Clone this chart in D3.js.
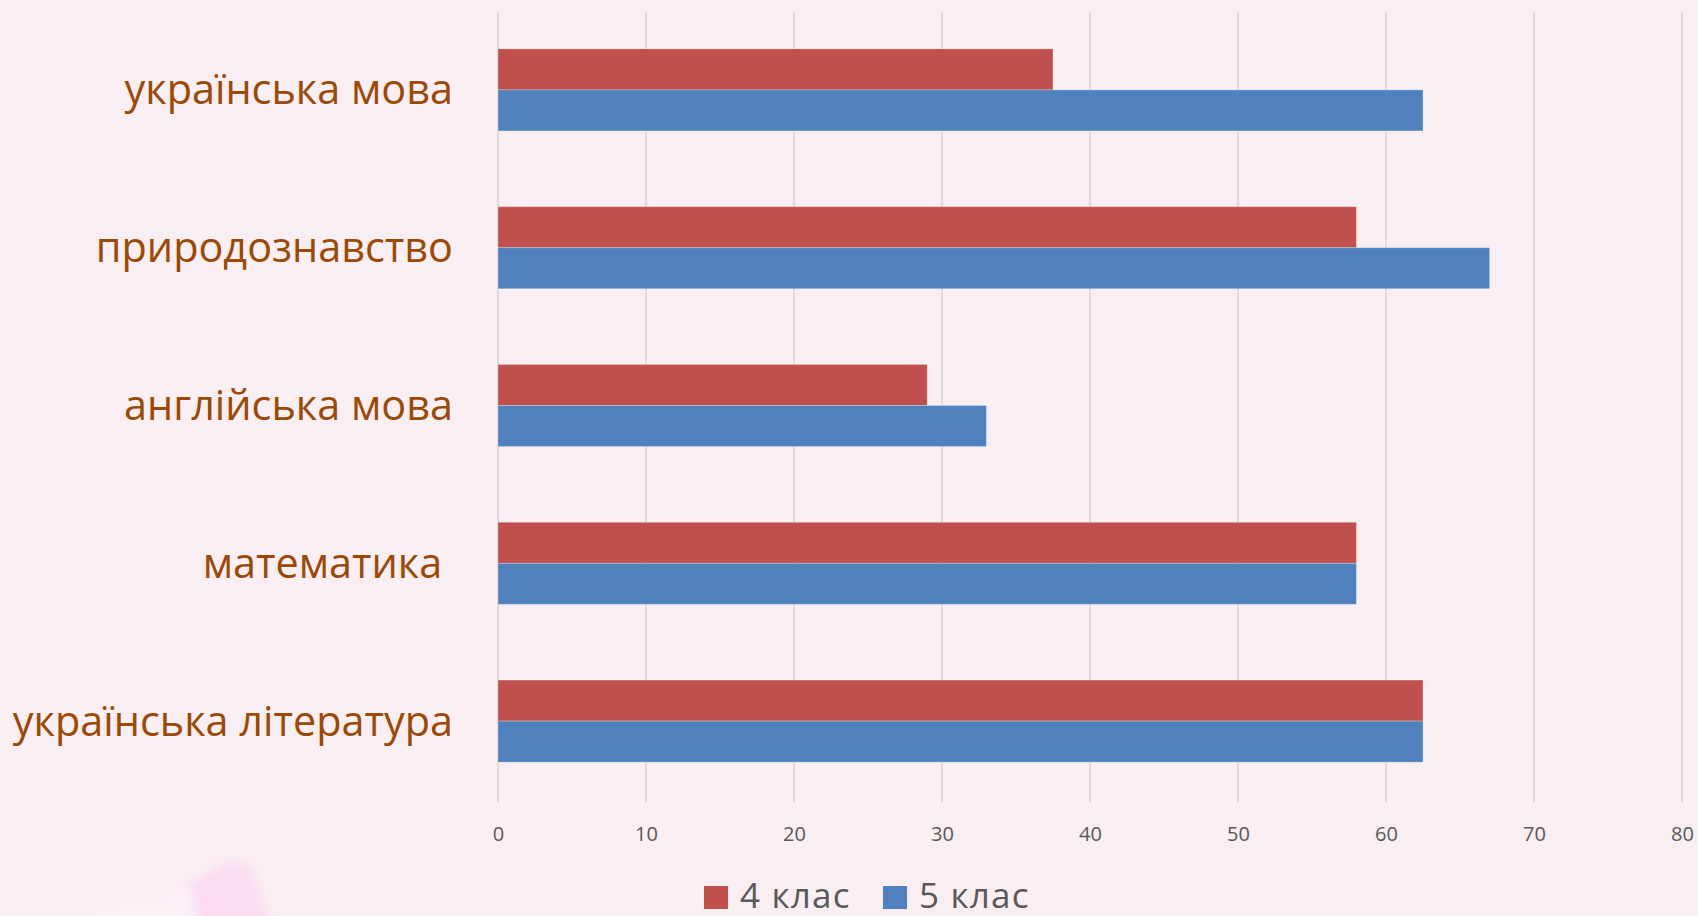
<!DOCTYPE html>
<html>
<head>
<meta charset="utf-8">
<script src="https://cdn.jsdelivr.net/npm/d3@7"></script>
<style>
  body { margin: 0; background: #f9eef2; }
  svg { display: block; }
  text { font-family: "Open Sans", "Noto Sans", sans-serif; }
</style>
</head>
<body>
<script>
// subjects, top to bottom
var categories = ["українська мова", "природознавство", "англійська мова", "математика ", "українська література"];
var grade4 = [37.5, 58, 29, 58, 62.5];
var grade5 = [62.5, 67, 33, 58, 62.5];
var seriesNames = ["4 клас", "5 клас"];
var seriesColors = ["#c0504d", "#4f81bd"];
var tickValues = [0, 10, 20, 30, 40, 50, 60, 70, 80];

var w = 1698, h = 916;

var svg = d3.select("body").append("svg")
    .attr("width", w)
    .attr("height", h);

/* background + the pink patch in the lower left corner */
svg.append("rect").attr("width", w).attr("height", h).attr("fill", "#f9eef2");
var defs = svg.append("defs");
defs.append("filter").attr("id", "soft")
    .append("feGaussianBlur").attr("stdDeviation", 5);
svg.append("path")
    .attr("d", "M120,930 L180,890 L228,862 L250,866 L272,930 Z")
    .attr("fill", "#fbdcf1")
    .attr("filter", "url(#soft)");
svg.append("path")
    .attr("d", "M40,930 L120,900 L190,885 L200,930 Z")
    .attr("fill", "#faf0f6")
    .attr("filter", "url(#soft)");

/* scales */
var x = d3.scaleLinear().domain([0, 80]).range([498, 1682]);
var y = d3.scaleBand().domain(categories).range([11, 800])
    .paddingInner(0.48).paddingOuter(0.24);
var ySub = d3.scaleBand().domain([0, 1]).range([0, y.bandwidth()]);

/* vertical gridlines */
svg.append("g").selectAll("line")
    .data(tickValues)
    .enter().append("line")
    .attr("x1", function(d) { return x(d); })
    .attr("x2", function(d) { return x(d); })
    .attr("y1", 12)
    .attr("y2", 802)
    .attr("stroke", "#d6d3d4")
    .attr("stroke-width", 1.5);

/* bars */
var rows = categories.map(function(c, i) {
    return { cat: c, values: [grade4[i], grade5[i]] };
});
var groups = svg.append("g").selectAll("g")
    .data(rows)
    .enter().append("g")
    .attr("transform", function(d) { return "translate(0," + y(d.cat) + ")"; });

groups.selectAll("rect")
    .data(function(d) { return d.values; })
    .enter().append("rect")
    .attr("x", x(0))
    .attr("y", function(d, i) { return ySub(i); })
    .attr("width", function(d) { return x(d) - x(0); })
    .attr("height", ySub.bandwidth())
    .attr("fill", function(d, i) { return seriesColors[i]; })
    .attr("stroke", "rgba(255,255,255,0.25)")
    .attr("stroke-width", 1);

/* category labels */
svg.append("g").selectAll("text")
    .data(categories)
    .enter().append("text")
    .attr("x", 453)
    .attr("y", function(d) { return y(d) + y.bandwidth() / 2; })
    .attr("dy", "0.35em")
    .attr("text-anchor", "end")
    .style("white-space", "pre")
    .attr("font-size", 41.4)
    .attr("fill", "#9a4a06")
    .text(function(d) { return d; });

/* x tick labels */
var xAxis = d3.axisBottom(x).tickValues(tickValues).tickSize(0).tickPadding(0);
var ax = svg.append("g").attr("transform", "translate(0,827)").call(xAxis);
ax.select(".domain").remove();
ax.selectAll("text")
    .attr("font-size", 20)
    .attr("fill", "#595959")
    .attr("font-family", "'Open Sans', sans-serif");

/* legend */
var legendX = [704, 883];
var legend = svg.append("g").selectAll("g")
    .data(seriesNames)
    .enter().append("g")
    .attr("transform", function(d, i) { return "translate(" + legendX[i] + ",0)"; });
legend.append("rect")
    .attr("y", 886)
    .attr("width", 24)
    .attr("height", 23)
    .attr("fill", function(d, i) { return seriesColors[i]; });
legend.append("text")
    .attr("x", 36)
    .attr("y", 908)
    .attr("font-size", 35)
    .attr("letter-spacing", 1.2)
    .attr("fill", "#595959")
    .text(function(d) { return d; });
</script>
</body>
</html>
